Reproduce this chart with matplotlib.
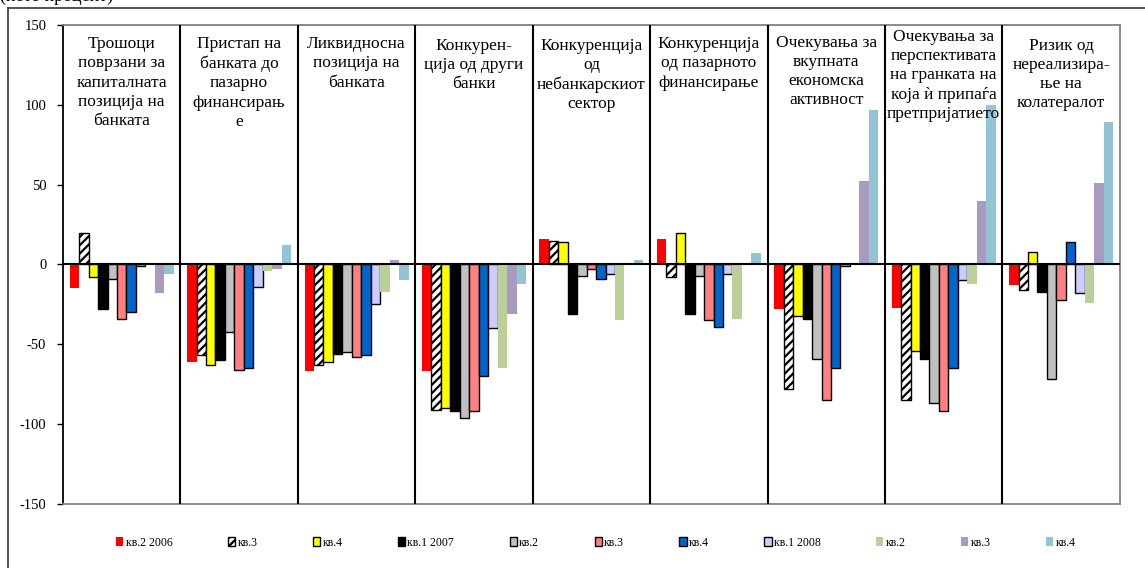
import matplotlib
matplotlib.use("Agg")
import matplotlib.pyplot as plt
import numpy as np
from matplotlib.lines import Line2D

plt.rcParams["font.family"] = ["Liberation Serif", "DejaVu Serif"]
plt.rcParams["hatch.linewidth"] = 1.6
plt.rcParams["axes.unicode_minus"] = False

categories = [
    "Трошоци\nповрзани за\nкапиталната\nпозиција на\nбанката",
    "Пристап на\nбанката до\nпазарно\nфинансирањ\nе",
    "Ликвидносна\nпозиција на\nбанката",
    "Конкурен-\nција од други\nбанки",
    "Конкуренција\nод\nнебанкарскиот\nсектор",
    "Конкуренција\nод пазарното\nфинансирање",
    "Очекувања за\nвкупната\nекономска\nактивност",
    "Очекувања за\nперспективата\nна гранката на\nкоја ѝ припаѓа\nпретпријатието",
    "Ризик од\nнереализира-\nње на\nколатералот",
]

series_labels = ["кв.2 2006", "кв.3", "кв.4", "кв.1 2007", "кв.2", "кв.3",
                 "кв.4", "кв.1 2008", "кв.2", "кв.3", "кв.4"]

# one list per quarter, values for the nine factors
q2_2006 = [-15, -61, -67, -67, 16, 16, -28, -27, -13]
q3_2006 = [20, -57, -63, -91, 15, -8, -78, -85, -16]
q4_2006 = [-8, -63, -61, -90, 14, 20, -32, -54, 8]
q1_2007 = [-28, -60, -56, -92, -31, -31, -34, -59, -17]
q2_2007 = [-9, -42, -55, -96, -7, -7, -59, -87, -72]
q3_2007 = [-34, -66, -58, -92, -3, -35, -85, -92, -22]
q4_2007 = [-30, -65, -57, -70, -9, -39, -65, -65, 14]
q1_2008 = [-1, -14, -25, -40, -6, -6, -1, -10, -18]
q2_2008 = [0, -4, -17, -65, -35, -34, 0, -12, -24]
q3_2008 = [-18, -3, 3, -31, 1, 1, 52, 40, 51]
q4_2008 = [-6, 12, -10, -12, 3, 7, 97, 100, 89]

series = [q2_2006, q3_2006, q4_2006, q1_2007, q2_2007, q3_2007,
          q4_2007, q1_2008, q2_2008, q3_2008, q4_2008]

styles = [
    dict(color="#FF0000", edgecolor="none"),
    dict(color="white", edgecolor="black", hatch="////", linewidth=1.0),
    dict(color="#FFFF00", edgecolor="black", linewidth=1.0),
    dict(color="#000000", edgecolor="black", linewidth=1.0),
    dict(color="#C0C0C0", edgecolor="black", linewidth=1.0),
    dict(color="#FF8080", edgecolor="black", linewidth=1.0),
    dict(color="#0066CC", edgecolor="black", linewidth=1.0),
    dict(color="#CCCCFF", edgecolor="black", linewidth=1.0),
    dict(color="#BBCF98", edgecolor="none"),
    dict(color="#A99BBF", edgecolor="none"),
    dict(color="#93C4D6", edgecolor="none"),
]

fig = plt.figure(figsize=(11.45, 5.68), dpi=100)
ax = fig.add_axes([0.055, 0.1127, 0.923, 0.8433])

n_groups = len(categories)
x = np.arange(n_groups) + 0.5
w = 0.0805
handles = []
for j, (vals, st) in enumerate(zip(series, styles)):
    b = ax.bar(x + (j - 5) * w, vals, w, label=series_labels[j], zorder=2, **st)
    handles.append(b)

ax.set_xlim(0, n_groups)
ax.set_ylim(-150, 150)
ax.set_yticks(np.arange(-150, 151, 50))
ax.set_xticks([])
ax.tick_params(axis="y", labelsize=10.5, length=4, width=1, direction="out", pad=8)

ax.axhline(0, color="black", lw=1.5, zorder=3)
for k in range(1, n_groups):
    ax.axvline(k, color="black", lw=1.5, zorder=3)

ax.spines["left"].set_color("black")
ax.spines["left"].set_linewidth(1.3)
for s in ("top", "right", "bottom"):
    ax.spines[s].set_color("#808080")
    ax.spines[s].set_linewidth(1.3)

title_top = [143, 143, 143, 142, 142, 143, 144, 147.5, 142]
for i, name in enumerate(categories):
    ax.text(x[i], title_top[i], name, ha="center", va="top", fontsize=12.5,
            linespacing=1.27, zorder=4)

fig.legend(handles=handles, loc="center", bbox_to_anchor=(0.5205, 0.044), ncol=11,
           frameon=False, fontsize=8.5, handlelength=0.6, handleheight=0.8,
           handletextpad=0.2, columnspacing=4.7)

# outer frame (left and top edges) and the clipped unit caption
fig.add_artist(Line2D([8 / 1145, 8 / 1145], [0, 1 - 8 / 568], color="#333333", lw=1.2))
fig.add_artist(Line2D([8 / 1145, 1], [1 - 8 / 568, 1 - 8 / 568], color="#333333", lw=1.2))
fig.text(0 / 1145, 1 - 0.5 / 568, "(нето процент)", fontsize=13, va="baseline", ha="left")

fig.savefig("out.png", dpi=100)
